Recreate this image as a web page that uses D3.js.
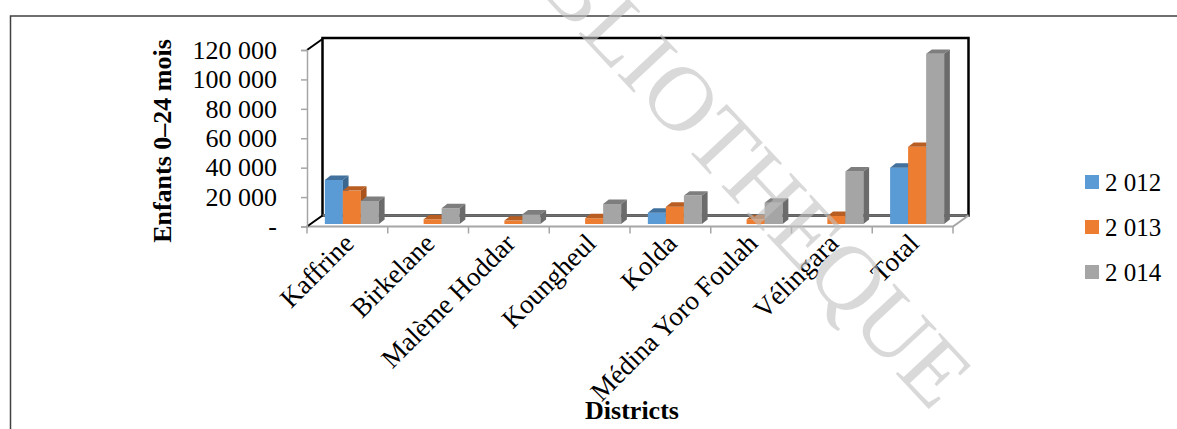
<!DOCTYPE html>
<html>
<head>
<meta charset="utf-8">
<script src="https://cdn.jsdelivr.net/npm/d3@7"></script>
<style>
  body { margin: 0; background: #fff; }
  svg text { font-family: "Liberation Serif", "Times New Roman", serif; }
</style>
</head>
<body>
<script>
// data
var districts = ["Kaffrine", "Birkelane", "Malème Hoddar", "Koungheul", "Kolda", "Médina Yoro Foulah", "Vélingara", "Total"];
var years = ["2 012", "2 013", "2 014"];
var v2012 = [30000, 0, 0, 0, 7700, 0, 0, 38300];
var v2013 = [22700, 3200, 2300, 3900, 11800, 3200, 5500, 52500];
var v2014 = [15700, 10700, 6600, 13600, 19300, 14500, 35700, 115700];
var yTicks = [0, 20000, 40000, 60000, 80000, 100000, 120000];

var series = [v2012, v2013, v2014];
var colors = ["#5B9BD5", "#ED7D31", "#A5A5A5"];
var tops = ["#41719C", "#B85E22", "#7E7E7E"];
var sides = ["#3A6790", "#A8541C", "#6B6B6B"];

var W = 1177, H = 429;
var svg = d3.select("body").append("svg").attr("width", W).attr("height", H);

// outer frame
svg.append("path").attr("d", "M10.5," + H + " V16 H" + W)
   .attr("fill", "none").attr("stroke", "#404040").attr("stroke-width", 1.5);

// plot box (front plane) and depth offset
var x0 = 307, x1 = 953, yBase = 226.5, yTop = 50;
var dX = 15.5, dY = -11;

var y = d3.scaleLinear().domain([0, 120000]).range([yBase, yTop]);
var x = d3.scaleBand().domain(districts).range([x0, x1]);
var xs = d3.scaleBand().domain(years).range([0, x.bandwidth()]).paddingOuter(0.74);

// back wall
svg.append("rect").attr("x", x0 + dX).attr("y", yTop + dY - 1)
   .attr("width", x1 - x0).attr("height", yBase - yTop + 1)
   .attr("fill", "#fff").attr("stroke", "#000").attr("stroke-width", 2.5);
svg.append("line").attr("x1", x0 + dX).attr("x2", x1 + dX)
   .attr("y1", yBase + dY).attr("y2", yBase + dY)
   .attr("stroke", "#6f6f6f").attr("stroke-width", 2.5);

// floor
svg.append("path")
   .attr("d", "M" + x0 + "," + yBase + " L" + x1 + "," + yBase + " L" + (x1 + dX) + "," + (yBase + dY))
   .attr("fill", "none").attr("stroke", "#a6a6a6").attr("stroke-width", 2);

// left side wall diagonals
svg.append("path")
   .attr("d", "M" + x0 + "," + yTop + " L" + (x0 + dX) + "," + (yTop + dY) +
              " M" + x0 + "," + yBase + " L" + (x0 + dX) + "," + (yBase + dY))
   .attr("stroke", "#000").attr("stroke-width", 2);

// y axis
var yAxis = d3.axisLeft(y).tickValues(yTicks).tickSize(6).tickPadding(24)
   .tickFormat(function (d) { return d === 0 ? "-" : d3.format(",")(d).replace(/,/g, " "); });
var gy = svg.append("g").attr("transform", "translate(" + x0 + ",0)").call(yAxis);
gy.select(".domain").attr("stroke", "#a6a6a6").attr("stroke-width", 1.5);
gy.selectAll(".tick line").attr("stroke", "#a6a6a6").attr("stroke-width", 1.5);
gy.selectAll(".tick text").attr("font-size", 26).attr("fill", "#000")
   .attr("font-family", "Liberation Serif");

// x ticks at category boundaries
var bounds = districts.map(function (d) { return x(d); }).concat([x1]);
svg.selectAll(".xt").data(bounds).enter().append("line")
   .attr("x1", function (d) { return d; }).attr("x2", function (d) { return d; })
   .attr("y1", yBase).attr("y2", yBase + 7)
   .attr("stroke", "#a6a6a6").attr("stroke-width", 1.5);

// 3D bars
var barBase = 224, shift = 4.5, bdx = 5.7, bdy = -4.4;
var yb = d3.scaleLinear().domain([0, 120000]).range([barBase, barBase - (yBase - yTop)]);
var bw = xs.bandwidth();

districts.forEach(function (d, i) {
  years.forEach(function (yr, s) {
    var v = series[s][i];
    if (!v) return;
    var bx = x(d) + xs(yr) + shift;
    var by = yb(v);
    var g = svg.append("g");
    g.append("rect").attr("x", bx).attr("y", by).attr("width", bw).attr("height", barBase - by)
     .attr("fill", colors[s]);
    g.append("path")
     .attr("d", "M" + bx + "," + by + " L" + (bx + bdx) + "," + (by + bdy) + " L" + (bx + bw + bdx) + "," + (by + bdy) + " L" + (bx + bw) + "," + by + "Z")
     .attr("fill", tops[s]);
    g.append("path")
     .attr("d", "M" + (bx + bw) + "," + by + " L" + (bx + bw + bdx) + "," + (by + bdy) + " L" + (bx + bw + bdx) + "," + (barBase + bdy) + " L" + (bx + bw) + "," + barBase + "Z")
     .attr("fill", sides[s]);
  });
});

// x labels
svg.selectAll(".xl").data(districts).enter().append("text")
   .attr("transform", function (d) { return "translate(" + (x(d) + x.bandwidth() / 2 + 8) + ",245) rotate(-45)"; })
   .attr("text-anchor", "end").attr("font-size", 27).attr("fill", "#000")
   .text(function (d) { return d; });

// axis titles
svg.append("text").attr("transform", "translate(171,141) rotate(-90)")
   .attr("text-anchor", "middle").attr("font-size", 26).attr("font-weight", "bold")
   .text("Enfants 0–24 mois");
svg.append("text").attr("x", 632).attr("y", 419).attr("text-anchor", "middle")
   .attr("font-size", 26).attr("font-weight", "bold").text("Districts");

// legend
var leg = svg.selectAll(".lg").data(years).enter().append("g")
   .attr("transform", function (d, i) { return "translate(1085," + (182 + i * 45) + ")"; });
leg.append("rect").attr("x", 0).attr("y", -7).attr("width", 14).attr("height", 14)
   .attr("fill", function (d, i) { return colors[i]; });
leg.append("text").attr("x", 20).attr("dy", "0.35em").attr("font-size", 25)
   .text(function (d) { return d; });

// watermark
svg.append("text").attr("transform", "translate(725,145) rotate(47)")
   .attr("text-anchor", "middle").attr("dominant-baseline", "central")
   .attr("font-family", "Liberation Sans").attr("font-size", 92)
   .attr("fill", "#bfbfbf").attr("fill-opacity", 0.6)
   .text("BIBLIOTHEQUE");
</script>
</body>
</html>
